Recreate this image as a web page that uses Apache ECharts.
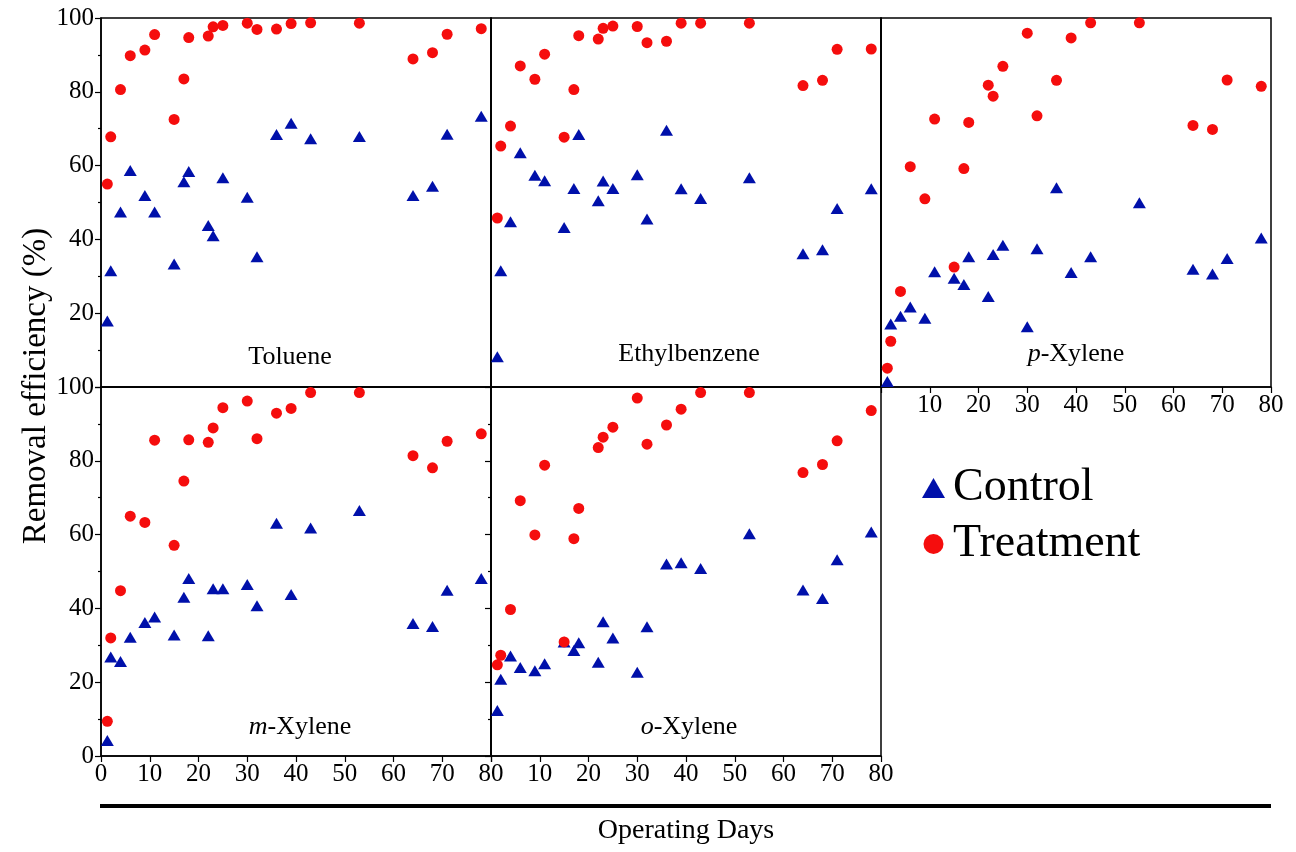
<!DOCTYPE html>
<html>
<head>
<meta charset="utf-8">
<script src="https://cdn.jsdelivr.net/npm/echarts@6/dist/echarts.min.js"></script>
<style>
html,body{margin:0;padding:0;background:#fff;}
#c{width:1296px;height:852px;}
</style>
</head>
<body>
<div id="c"></div>
<script>
// ---- data ----
const days = [1.3, 2, 4, 6, 9, 11, 15, 17, 18, 22, 23, 25, 30, 32, 36, 39, 43, 53, 64, 68, 71, 78];
const panelNames = ['Toluene', 'Ethylbenzene', '{i|p}-Xylene', '{i|m}-Xylene', '{i|o}-Xylene'];
const xTicks = [0, 10, 20, 30, 40, 50, 60, 70, 80];
const yTicks = [0, 20, 40, 60, 80, 100];

const tolueneControl   = [17.9, 31.5, 47.4, 58.7, 51.9, 47.4, 33.3, 55.6, 58.4, 43.8, 41.0, 56.7, 51.4, 35.3, 68.4, 71.5, 67.3, 67.9, 51.9, 54.4, 68.5, 73.4];
const tolueneTreatment = [55.0, 67.8, 80.6, 89.8, 91.3, 95.5, 72.5, 83.5, 94.7, 95.1, 97.6, 98.0, 98.6, 96.9, 97.0, 98.5, 98.7, 98.6, 88.9, 90.6, 95.6, 97.1];

const ethylControl     = [8.2, 31.5, 44.8, 63.5, 57.4, 55.9, 43.2, 53.8, 68.4, 50.5, 55.8, 53.8, 57.5, 45.5, 69.6, 53.7, 51.1, 56.7, 36.1, 37.2, 48.4, 53.7];
const ethylTreatment   = [45.8, 65.3, 70.7, 87.0, 83.4, 90.2, 67.7, 80.6, 95.2, 94.3, 97.2, 97.8, 97.7, 93.3, 93.7, 98.6, 98.6, 98.6, 81.7, 83.1, 91.5, 91.6];

const pXyleneControl   = [1.5, 17.1, 19.2, 21.7, 18.6, 31.2, 29.5, 27.8, 35.3, 24.5, 35.9, 38.4, 16.3, 37.5, 54.0, 31.0, 35.3, 49.9, 31.9, 30.6, 34.8, 40.4];
const pXyleneTreatment = [5.1, 12.4, 25.9, 59.7, 51.0, 72.6, 32.5, 59.2, 71.7, 81.8, 78.8, 86.9, 95.9, 73.5, 83.1, 94.6, 98.7, 98.7, 70.9, 69.8, 83.2, 81.5];

const mXyleneControl   = [4.2, 26.8, 25.6, 32.2, 36.2, 37.7, 32.8, 43.0, 48.1, 32.6, 45.3, 45.3, 46.5, 40.7, 63.1, 43.8, 61.8, 66.5, 35.9, 35.1, 44.9, 48.1];
const mXyleneTreatment = [9.4, 32.0, 44.8, 65.0, 63.3, 85.6, 57.1, 74.5, 85.7, 85.0, 88.9, 94.4, 96.2, 86.0, 92.9, 94.2, 98.5, 98.5, 81.4, 78.1, 85.3, 87.3];

const oXyleneControl   = [12.3, 20.8, 27.1, 24.0, 23.1, 25.0, 30.9, 28.6, 30.7, 25.4, 36.4, 32.0, 22.7, 35.0, 52.0, 52.4, 50.8, 60.2, 45.0, 42.7, 53.2, 60.7];
const oXyleneTreatment = [24.7, 27.3, 39.7, 69.2, 59.9, 78.8, 30.9, 58.9, 67.1, 83.6, 86.4, 89.1, 97.0, 84.5, 89.7, 94.0, 98.5, 98.5, 76.8, 79.0, 85.4, 93.6];

const controlSets   = [tolueneControl, ethylControl, pXyleneControl, mXyleneControl, oXyleneControl];
const treatmentSets = [tolueneTreatment, ethylTreatment, pXyleneTreatment, mXyleneTreatment, oXyleneTreatment];

// ---- layout ----
const FONT = "'Liberation Serif', 'DejaVu Serif', serif";
const PW = 390, PH = 369;
const gridPos = [[101, 18], [491, 18], [881, 18], [101, 387], [491, 387]];
const titlePos = [[290, 357], [689, 354], [1076, 354], [300, 727], [689, 727]];
const xLabelOn = [false, false, true, true, true];
const xHideZero = [true, true, true, false, true];
const yLabelOn = [true, false, false, true, false];
const yTickOn = [true, false, false, true, true];
const yHideZero = [true, true, true, false, true];

const BLUE = '#0010aa';
const RED = '#f50d0d';

const grid = gridPos.map(p => ({
  left: p[0], top: p[1], width: PW, height: PH,
  show: true, borderColor: '#000', borderWidth: 1.5, backgroundColor: 'transparent'
}));

const xAxis = gridPos.map((p, i) => ({
  type: 'value', gridIndex: i, min: xTicks[0], max: xTicks[xTicks.length - 1], interval: 10,
  axisLine: { show: true, onZero: false, lineStyle: { color: '#000', width: 1.5 } },
  axisTick: { show: xLabelOn[i], length: 6, lineStyle: { color: '#000', width: 1.2 } },
  axisLabel: {
    show: xLabelOn[i], margin: 6, color: '#000', fontFamily: FONT, fontSize: 25,
    formatter: v => (xHideZero[i] && v === 0) ? '' : String(v)
  },
  splitLine: { show: false }
}));

const yAxis = gridPos.map((p, i) => ({
  type: 'value', gridIndex: i, min: yTicks[0], max: yTicks[yTicks.length - 1], interval: 20,
  axisLine: { show: true, onZero: false, lineStyle: { color: '#000', width: 1.5 } },
  axisTick: { show: yTickOn[i], length: 6, lineStyle: { color: '#000', width: 1.2 } },
  minorTick: { show: yTickOn[i], splitNumber: 2, length: 3, lineStyle: { color: '#000', width: 1.2 } },
  axisLabel: {
    show: yLabelOn[i], margin: 7, color: '#000', fontFamily: FONT, fontSize: 25,
    formatter: v => (yHideZero[i] && v === 0) ? '' : String(v)
  },
  splitLine: { show: false }, minorSplitLine: { show: false }
}));

const series = [];
for (let i = 0; i < 5; i++) {
  series.push({
    name: 'Control', type: 'scatter', xAxisIndex: i, yAxisIndex: i,
    symbol: 'triangle', symbolSize: [13, 11], clip: false,
    itemStyle: { color: BLUE, opacity: 1 },
    data: days.map((d, j) => [d, controlSets[i][j]])
  });
  series.push({
    name: 'Treatment', type: 'scatter', xAxisIndex: i, yAxisIndex: i,
    symbol: 'circle', symbolSize: 11, clip: false,
    itemStyle: { color: RED, opacity: 1 },
    data: days.map((d, j) => [d, treatmentSets[i][j]])
  });
}

const graphic = [];
panelNames.forEach((name, i) => {
  graphic.push({
    type: 'text', x: titlePos[i][0], y: titlePos[i][1], silent: true,
    style: {
      text: name, fill: '#000', font: "26px " + FONT,
      textAlign: 'center', textVerticalAlign: 'middle',
      rich: { i: { fontStyle: 'italic', fontSize: 26, fontFamily: FONT, fill: '#000' } }
    }
  });
});
graphic.push({
  type: 'line', silent: true,
  shape: { x1: 100, y1: 806, x2: 1271, y2: 806 },
  style: { stroke: '#000', lineWidth: 4 }
});
graphic.push({
  type: 'text', x: 686, y: 831, silent: true,
  style: { text: 'Operating Days', fill: '#000', font: "28px " + FONT, textAlign: 'center', textVerticalAlign: 'middle' }
});
graphic.push({
  type: 'text', x: 36, y: 386, rotation: Math.PI / 2, silent: true,
  style: { text: 'Removal efficiency (%)', fill: '#000', font: "33px " + FONT, textAlign: 'center', textVerticalAlign: 'middle' }
});

const option = {
  backgroundColor: '#fff',
  animation: false,
  grid, xAxis, yAxis, series, graphic,
  legend: {
    orient: 'vertical', left: 917, top: 459,
    itemWidth: 23, itemHeight: 20, itemGap: 8,
    data: [{ name: 'Control', icon: 'triangle' }, { name: 'Treatment', icon: 'circle' }],
    textStyle: { fontFamily: FONT, fontSize: 46, color: '#000', lineHeight: 48, padding: [0, 0, 0, 3] }
  }
};

const chart = echarts.init(document.getElementById('c'), null, { renderer: 'canvas' });
chart.setOption(option);
</script>
</body>
</html>
